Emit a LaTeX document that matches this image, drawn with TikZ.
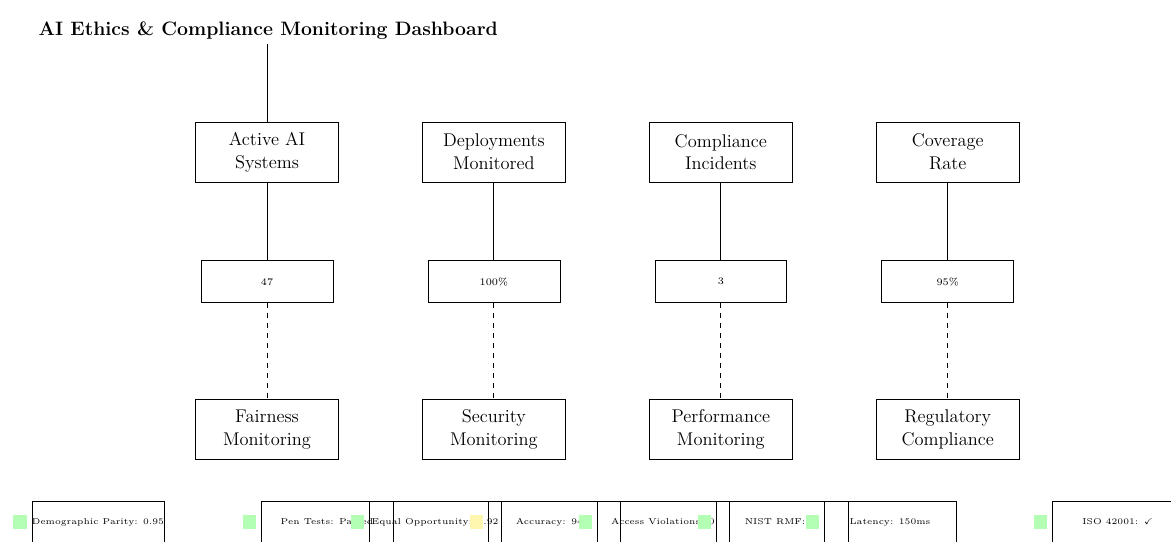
\documentclass[tikz,border=0pt]{standalone}
\usepackage{amssymb}
\usepackage{tikz}
\usetikzlibrary{positioning}

\definecolor{okgreen}{RGB}{179,255,179}
\definecolor{warnyellow}{RGB}{255,246,176}

\begin{document}
\begin{tikzpicture}[x=0.021cm, y=-0.021cm, node distance=1.75cm, semithick]
          % Estilos para las tarjetas, valores e indicadores
          \tikzstyle{metric} = [draw, thin, rectangle, align=center, minimum width=3cm, minimum height=1.26cm, font=\fontsize{11}{13.6}\selectfont]
          \tikzstyle{value} = [draw, thin, rectangle, minimum width=2.77cm, minimum height=0.88cm, font=\fontsize{6}{7}\selectfont]
          \tikzstyle{check} = [draw, thin, rectangle, inner xsep=0pt, minimum width=2.77cm, minimum height=0.88cm, font=\fontsize{5.1}{6}\selectfont]
          \tikzstyle{status} = [rectangle, fill=okgreen, minimum size=0.29cm, inner sep=0pt] % Indicador de estado

          \useasboundingbox (0,0) rectangle (1171,541);
          \clip (0,0) rectangle (1171,541);

          % Titulo
          \node [anchor=base west, inner sep=0pt, font=\fontsize{11.6}{14}\selectfont\bfseries] (title) at (38,35) {AI Ethics \& Compliance Monitoring Dashboard};
          \node [coordinate] (root) at (267,44) {};

          % Fila de metricas
          \node [metric] (active) at (267,152) {Active AI\\Systems};
          \node [metric, right=1.75cm of active] (deploy) {Deployments\\Monitored};
          \node [metric, right=1.75cm of deploy] (incidents) {Compliance\\Incidents};
          \node [metric, right=1.75cm of incidents] (coverage) {Coverage\\Rate};

          % Valores
          \node [value, below=1.64cm of active] (activeval) {47};
          \node [value, below=1.64cm of deploy] (deployval) {100\%};
          \node [value, below=1.64cm of incidents] (incidentsval) {3};
          \node [value, below=1.64cm of coverage] (coverageval) {95\%};

          % Areas de monitoreo
          \node [metric, below=2.02cm of activeval] (fairness) {Fairness\\Monitoring};
          \node [metric, below=2.02cm of deployval] (security) {Security\\Monitoring};
          \node [metric, below=2.02cm of incidentsval] (performance) {Performance\\Monitoring};
          \node [metric, below=2.02cm of coverageval] (regulatory) {Regulatory\\Compliance};

          % Conexiones
          \draw (root) -- (active);
          \foreach \m in {active, deploy, incidents, coverage} {
            \draw (\m) -- (\m val);
          }
          \draw [dashed] (activeval) -- (fairness);
          \draw [dashed] (deployval) -- (security);
          \draw [dashed] (incidentsval) -- (performance);
          \draw [dashed] (coverageval) -- (regulatory);

          % Controles detallados
          \node [check] (parity) at (98,522) {Demographic Parity: 0.95};
          \node [status, left=0.08cm of parity] (paritystat) {};
          \node [check] (pentest) at (327,522) {Pen Tests: Passed};
          \node [status, left=0.08cm of pentest] (penteststat) {};
          \node [check] (equalopp) at (435,522) {Equal Opportunity: 0.92};
          \node [status, left=0.08cm of equalopp] (equaloppstat) {};
          \node [check] (accuracy) at (554,522) {Accuracy: 94\%};
          \node [status, fill=warnyellow, left=0.08cm of accuracy] (accuracystat) {};
          \node [check] (access) at (663,522) {Access Violations: 0};
          \node [status, left=0.08cm of access] (accessstat) {};
          \node [check] (nist) at (782,522) {NIST RMF: $\checkmark$};
          \node [status, left=0.08cm of nist] (niststat) {};
          \node [check] (latency) at (890,522) {Latency: 150ms};
          \node [status, left=0.08cm of latency] (latencystat) {};
          \node [check] (iso) at (1118,522) {ISO 42001: $\checkmark$};
          \node [status, left=0.08cm of iso] (isostat) {};
        \end{tikzpicture}
\end{document}
